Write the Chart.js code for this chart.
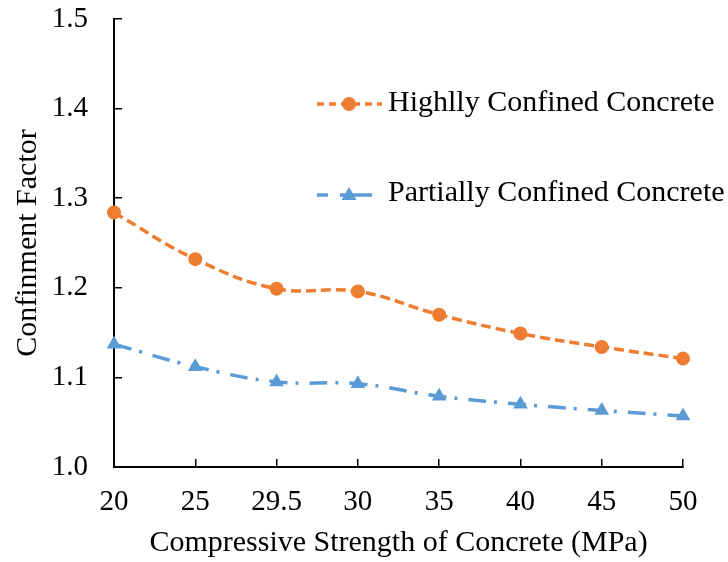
<!DOCTYPE html>
<html>
<head>
<meta charset="utf-8">
<script src="https://cdn.jsdelivr.net/npm/chart.js@4"></script>
<style>
  body { margin: 0; background: #fff; }
  canvas { display: block; }
</style>
</head>
<body>
<canvas id="chart" width="728" height="562"></canvas>
<script>
const strengths = ['20', '25', '29.5', '30', '35', '40', '45', '50'];
const highlyConfined = [1.284, 1.232, 1.199, 1.196, 1.170, 1.149, 1.134, 1.121];
const partiallyConfined = [1.137, 1.112, 1.095, 1.093, 1.079, 1.070, 1.063, 1.057];

const serif = '"Liberation Serif", "Times New Roman", serif';
const orange = '#ED7D31';
const blue = '#5B9BD5';

// legend drawn inside plot, like the excel original
const legendPlugin = {
  id: 'insideLegend',
  afterDraw(chart) {
    const ctx = chart.ctx;
    ctx.save();
    ctx.lineWidth = 3.5;
    // orange row
    ctx.strokeStyle = orange;
    ctx.setLineDash([7, 5]);
    ctx.beginPath(); ctx.moveTo(317, 104); ctx.lineTo(382, 104); ctx.stroke();
    ctx.setLineDash([]);
    ctx.fillStyle = orange;
    ctx.beginPath(); ctx.arc(349, 104, 7, 0, Math.PI * 2); ctx.fill();
    // blue row
    ctx.strokeStyle = blue;
    ctx.beginPath();
    ctx.moveTo(317, 195); ctx.lineTo(328, 195);
    ctx.moveTo(340, 195); ctx.lineTo(372, 195);
    ctx.stroke();
    ctx.fillStyle = blue;
    ctx.beginPath(); ctx.moveTo(349, 187); ctx.lineTo(356.5, 200); ctx.lineTo(341.5, 200); ctx.closePath(); ctx.fill();
    ctx.fillStyle = '#000';
    ctx.font = '30px ' + serif;
    ctx.textBaseline = 'middle';
    ctx.textAlign = 'left';
    ctx.fillText('Highlly Confined Concrete', 388, 103);
    ctx.fillText('Partially Confined Concrete', 388, 193);
    ctx.restore();
  }
};

new Chart(document.getElementById('chart'), {
  type: 'line',
  data: {
    labels: strengths,
    datasets: [{
      label: 'Highlly Confined Concrete',
      data: highlyConfined,
      borderColor: orange,
      backgroundColor: orange,
      borderWidth: 3.5,
      borderDash: [10, 5],
      pointStyle: 'circle',
      pointRadius: 7,
      pointBorderWidth: 0,
      tension: 0.4,
      clip: false
    }, {
      label: 'Partially Confined Concrete',
      data: partiallyConfined,
      borderColor: blue,
      backgroundColor: blue,
      borderWidth: 3.5,
      borderDash: [18, 8, 3, 11],
      pointStyle: 'triangle',
      pointRadius: 8.5,
      pointBorderWidth: 0,
      tension: 0.4,
      clip: false
    }]
  },
  options: {
    responsive: false,
    animation: false,
    layout: { padding: { left: 0, right: 45, top: 19, bottom: 0 } },
    plugins: {
      legend: { display: false },
      tooltip: { enabled: false }
    },
    scales: {
      x: {
        type: 'category',
        offset: false,
        grid: { drawOnChartArea: false, tickLength: -8, color: '#000', lineWidth: 1.5 },
        border: { color: '#000', width: 2 },
        ticks: { color: '#000', font: { family: serif, size: 29 }, padding: 26, maxRotation: 0 },
        title: {
          display: true,
          text: 'Compressive Strength of Concrete (MPa)',
          color: '#000',
          font: { family: serif, size: 30 },
          padding: { top: 0, bottom: 1 }
        },
        afterFit(scale) {
          scale.height = 95;
          scale.paddingLeft = 0;
          scale.paddingRight = 0;
        }
      },
      y: {
        min: 1.0,
        max: 1.5,
        grid: { drawOnChartArea: false, tickLength: -8, color: '#000', lineWidth: 1.5 },
        border: { color: '#000', width: 2 },
        ticks: {
          stepSize: 0.1,
          color: '#000',
          font: { family: serif, size: 29 },
          padding: 34,
          callback: v => v.toFixed(1)
        },
        title: {
          display: true,
          text: 'Confinment Factor',
          color: '#000',
          font: { family: serif, size: 30 },
          padding: { top: 10, bottom: 0 }
        },
        afterFit(scale) {
          scale.width = 114;
          scale.paddingTop = 0;
          scale.paddingBottom = 0;
        }
      }
    }
  },
  plugins: [legendPlugin]
});
</script>
</body>
</html>
